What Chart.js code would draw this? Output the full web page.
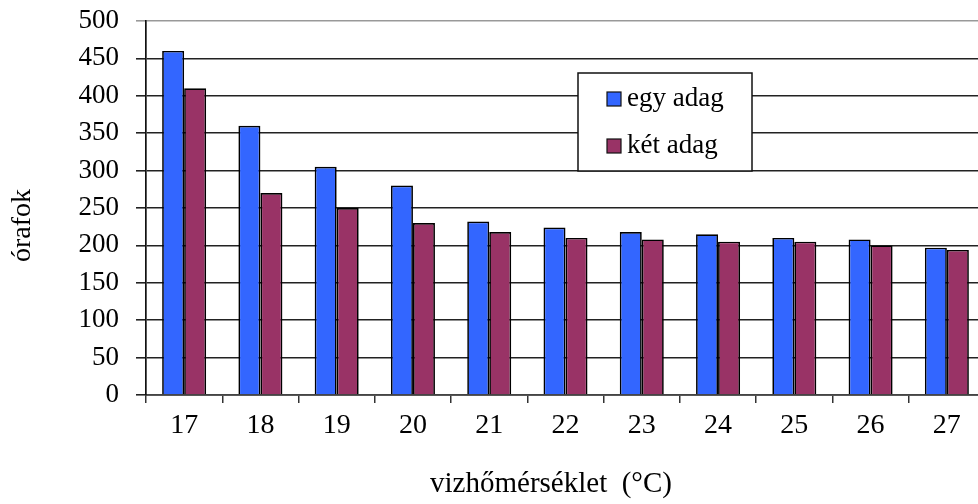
<!DOCTYPE html>
<html>
<head>
<meta charset="utf-8">
<script src="https://cdn.jsdelivr.net/npm/chart.js@4/dist/chart.umd.min.js"></script>
<style>
  html, body { margin: 0; padding: 0; background: #fff; overflow: hidden; }
  #wrap { position: relative; width: 990px; height: 504px; }
</style>
</head>
<body>
<div id="wrap"><canvas id="chart"></canvas></div>
<script>
// water temperature (°C) vs. degree-hours
const categories = ['17', '18', '19', '20', '21', '22', '23', '24', '25', '26', '27'];
const egyAdag = [460, 360, 305, 280, 232, 224, 218, 215, 210, 208, 197];
const ketAdag = [410, 270, 250, 230, 218, 210, 208, 205, 205, 200, 194];
const seriesNames = ['egy adag', 'két adag'];
const seriesColors = ['#3366FF', '#993366'];

const SERIF = "'Liberation Serif', 'DejaVu Serif', serif";

// legend box drawn inside the plot, like the original
const boxLegend = {
  id: 'boxLegend',
  afterDraw(chart) {
    const ctx = chart.ctx;
    const x = 578, y = 73, w = 174, h = 98;
    ctx.save();
    ctx.fillStyle = '#fff';
    ctx.fillRect(x, y, w, h);
    ctx.strokeStyle = '#111';
    ctx.lineWidth = 1.5;
    ctx.strokeRect(x, y, w, h);
    ctx.font = '27px ' + SERIF;
    ctx.textBaseline = 'middle';
    chart.data.datasets.forEach((ds, i) => {
      const cy = y + 26 + i * 47;
      ctx.fillStyle = ds.backgroundColor;
      ctx.fillRect(x + 29, cy - 7, 14, 14);
      ctx.lineWidth = 1.2;
      ctx.strokeRect(x + 29, cy - 7, 14, 14);
      ctx.fillStyle = '#000';
      ctx.fillText(ds.label, x + 49, cy);
    });
    ctx.restore();
  },
};

new Chart(document.getElementById('chart'), {
  type: 'bar',
  data: {
    labels: categories,
    datasets: [
      { label: seriesNames[0], data: egyAdag, backgroundColor: seriesColors[0] },
      { label: seriesNames[1], data: ketAdag, backgroundColor: seriesColors[1] },
    ].map((ds) => ({
      ...ds,
      borderColor: '#000',
      borderWidth: 1.7,
      categoryPercentage: 0.577,
      barPercentage: 1,
    })),
  },
  options: {
    responsive: true,
    maintainAspectRatio: false,
    animation: false,
    layout: { padding: { top: 21, right: 5, left: 0, bottom: 0 } },
    plugins: {
      legend: { display: false },
      tooltip: { enabled: false },
    },
    scales: {
      x: {
        grid: {
          offset: true,
          drawOnChartArea: false,
          drawTicks: true,
          tickLength: 8,
          color: '#333',
          lineWidth: 1.5,
        },
        border: { color: '#444', width: 1.7 },
        ticks: { color: '#000', padding: 6, font: { family: SERIF, size: 28 } },
        title: {
          display: true,
          text: 'vizhőmérséklet  (°C)\u00a0\u00a0\u00a0\u00a0',
          color: '#000',
          font: { family: SERIF, size: 29 },
          padding: { top: 0, bottom: 2 },
        },
        afterFit(scale) {
          scale.height = 109;
          scale.paddingLeft = 0;
          scale.paddingRight = 0;
        },
      },
      y: {
        min: 0,
        max: 500,
        ticks: { stepSize: 50, color: '#000', padding: 17, font: { family: SERIF, size: 27 } },
        grid: {
          color: (c) => (c.tick && c.tick.value === 500 ? '#999' : '#222'),
          lineWidth: 1.6,
          tickLength: 10,
        },
        border: { color: '#111', width: 1.7 },
        title: {
          display: true,
          text: 'órafok\u00a0\u00a0\u00a0\u00a0\u00a0',
          color: '#000',
          font: { family: SERIF, size: 28 },
          padding: { top: 6, bottom: 0 },
        },
        afterFit(scale) {
          scale.width = 146;
          scale.paddingTop = 0;
          scale.paddingBottom = 0;
        },
      },
    },
  },
  plugins: [boxLegend],
});
</script>
</body>
</html>
